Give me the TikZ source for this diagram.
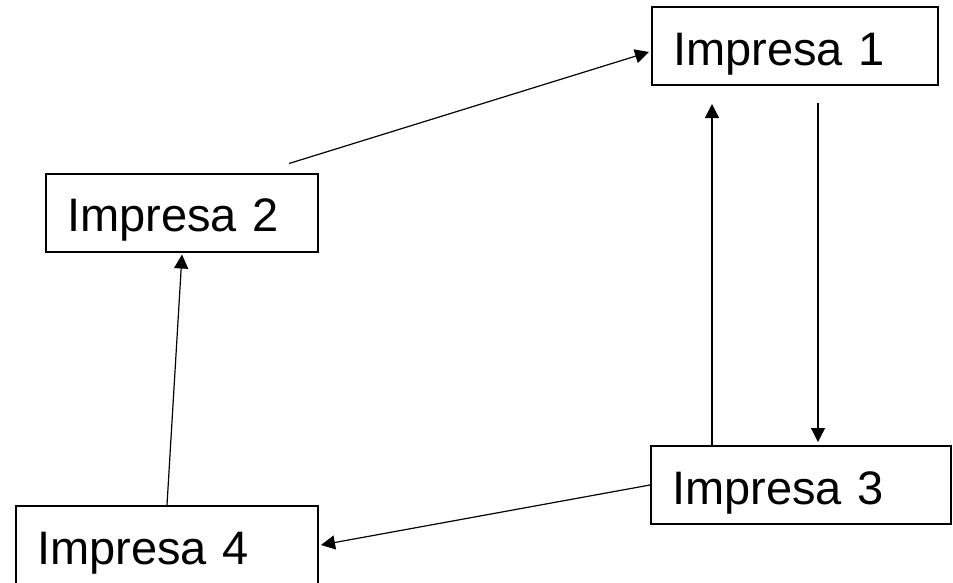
\documentclass[tikz,border=0pt]{standalone}
\usepackage{fontspec}
\setsansfont{Liberation Sans}
\usepackage{tikz}
\usetikzlibrary{arrows.meta, positioning, calc}

\begin{document}
\begin{tikzpicture}[x=1pt, y=-1pt,
    font=\sffamily\fontsize{47}{56}\selectfont,
    firmbox/.style={rectangle, draw=black, line width=2pt, fill=white,
      minimum height=78pt, inner xsep=21pt, text height=38pt, text depth=0pt,
      align=left},
    link/.style={-{Triangle[length=14pt, width=14pt]}, line width=1.2pt}]

    \useasboundingbox (0,0) rectangle (953,582);

    \node (imp1) [firmbox, text width=244pt] at (795,46) {Impresa 1};
    \node (imp2) [firmbox, text width=230pt] at (182,212.5) {Impresa 2};
    \node (imp3) [firmbox, text width=258pt] at (801,485) {Impresa 3};
    \node (imp4) [firmbox, text width=260pt] at (167,545) {Impresa 4};

    \draw [link] ($(imp2.north east)+(-30,-9)$) -- ($(imp1.west)+(-2,6)$);
    \draw [link] ($(imp3.north)+(-89,0)$) -- ($(imp1.south)+(-83,18)$);
    \draw [link] ($(imp1.south)+(23,17)$) -- ($(imp3.north)+(17,-3)$);
    \draw [link] (imp3.west) -- ($(imp4.east)+(2,0)$);
    \draw [link] (imp4.north) -- ($(imp2.south)+(0,2)$);
\end{tikzpicture}
\end{document}
